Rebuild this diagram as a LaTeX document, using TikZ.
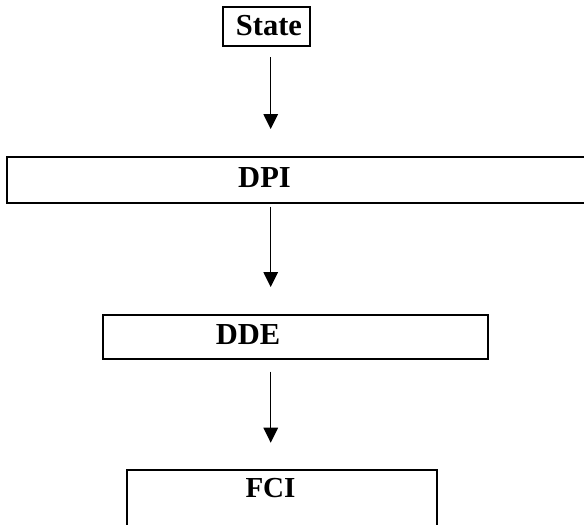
\documentclass[tikz,border=0pt]{standalone}
\usepackage{fontspec}
\setmainfont{Liberation Serif}
\usetikzlibrary{arrows.meta}
\begin{document}
\begin{tikzpicture}[x=1pt,y=-1pt,
  box/.style={draw=black,line width=2.2pt,rectangle,inner sep=0pt},
  lbl/.style={inner sep=0pt,font=\fontsize{30.5}{35}\selectfont\bfseries},
  arr/.style={line width=1.5pt,-{Triangle[length=15pt,width=14.5pt]}}]
\useasboundingbox (0,0) rectangle (584,525);
\node[box,minimum width=87.3pt,minimum height=38.4pt] (state) at (266.3,26.5) {};
\node[lbl] (statet) at (269,26) {State};
\node[box,minimum width=580.3pt,minimum height=45.4pt] (dpi) at (296.8,180) {};
\node[lbl] (dpit) at (264.5,178) {DPI};
\node[box,minimum width=385.3pt,minimum height=44pt] (dde) at (295.3,337) {};
\node[lbl] (ddet) at (248,335) {DDE};
\node[box,minimum width=310.6pt,minimum height=62pt] (fci) at (282,501) {};
\node[lbl,font=\fontsize{29}{34}\selectfont\bfseries] (fcit) at (270.5,488) {FCI};
\coordinate (a1s) at (270.7,57);
\coordinate (a1e) at (270.7,129);
\coordinate (a2s) at (270.7,206.7);
\coordinate (a2e) at (270.7,287);
\coordinate (a3s) at (270.7,371.7);
\coordinate (a3e) at (270.7,442.7);
\draw[arr] (a1s) -- (a1e);
\draw[arr] (a2s) -- (a2e);
\draw[arr] (a3s) -- (a3e);
\end{tikzpicture}
\end{document}
